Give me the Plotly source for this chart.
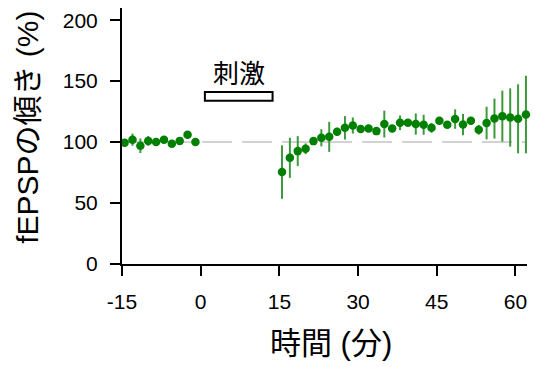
import plotly.graph_objects as go

# Time points (minutes) before and after stimulation
time_pre = [-14.5, -13, -11.5, -10, -8.5, -7, -5.5, -4, -2.5, -1]
slope_pre = [99.4, 102, 97, 101, 100, 102, 98.6, 101, 106, 100]
err_pre = [2, 5, 6, 4, 2, 2, 2, 2, 2, 2]

time_post = [15.5 + 1.5 * i for i in range(32)]
slope_post = [75.4, 87.1, 92.6, 94.5, 100.8, 103.5, 104.3, 108.4, 111.7, 113.6,
              110.7, 111.1, 109, 114.8, 111.1, 115.8, 115.8, 114.8, 114.2, 111.7,
              117.5, 114.2, 118.9, 114.4, 117.5, 110.1, 115.6, 119.3, 121.3, 120.2,
              119.1, 122.6]
err_post = [21.9, 16.4, 12.3, 4.4, 2, 7, 12.3, 3.3, 9.6, 6.6,
            2, 3, 2, 11, 2, 6, 2, 8.7, 8.2, 4,
            2, 2, 8, 8.7, 2, 4, 13.4, 16.4, 20.9, 23.9,
            28.3, 31.8]

baseline = 100
stim_start, stim_end = 0.8, 13.7
stim_low, stim_high = 134, 141

x_ticks = [-15, 0, 15, 30, 45, 60]
y_ticks = [0, 50, 100, 150, 200]

FONT = "Liberation Sans, Arial, Noto Sans CJK JP, sans-serif"
GREEN = "#008000"

fig = go.Figure()

fig.add_shape(type="line", x0=-15, x1=62.2, y0=baseline, y1=baseline,
              line=dict(color="#c4c4c4", width=1.5, dash="30px,10px"), layer="below")

for t, v, e in [(time_pre, slope_pre, err_pre), (time_post, slope_post, err_post)]:
    fig.add_trace(go.Scatter(
        x=t, y=v, mode="markers",
        marker=dict(color=GREEN, size=8.5),
        error_y=dict(type="data", array=e, visible=True, color="#3c9a3c",
                     thickness=2, width=0),
        cliponaxis=False, showlegend=False,
    ))

fig.add_shape(type="rect", x0=stim_start, x1=stim_end, y0=stim_low, y1=stim_high,
              line=dict(color="black", width=2), fillcolor="white")
fig.add_annotation(x=(stim_start + stim_end) / 2, y=stim_high, yanchor="bottom",
                   text="刺激", showarrow=False, yshift=1,
                   font=dict(family=FONT, size=26, color="black"))

fig.add_annotation(xref="paper", yref="paper", x=0.515, y=-0.31, text="時間 (分)",
                   showarrow=False, xanchor="center", yanchor="middle",
                   font=dict(family=FONT, size=31, color="black"))
fig.add_annotation(xref="paper", yref="paper", x=-0.235, y=0.535,
                   text="fEPSPの傾き (%)", textangle=-90, showarrow=False,
                   xanchor="center", yanchor="middle",
                   font=dict(family=FONT, size=30, color="black"))

axis_common = dict(showline=True, linecolor="black", linewidth=2, ticks="outside",
                   ticklen=10, tickwidth=2, tickcolor="black", showgrid=False,
                   zeroline=False, tickfont=dict(family=FONT, size=21, color="black"))

fig.update_xaxes(range=[-15, 62.2], tickvals=x_ticks, ticktext=[str(v) for v in x_ticks],
                 ticklabelstandoff=8, **axis_common)
fig.update_yaxes(range=[0, 210], tickvals=y_ticks, ticktext=[str(v) for v in y_ticks],
                 ticklabelstandoff=8, **axis_common)

fig.update_layout(width=534, height=367, margin=dict(l=122, r=7, t=8, b=103),
                  plot_bgcolor="white", paper_bgcolor="white")

fig.write_html("out.html")
